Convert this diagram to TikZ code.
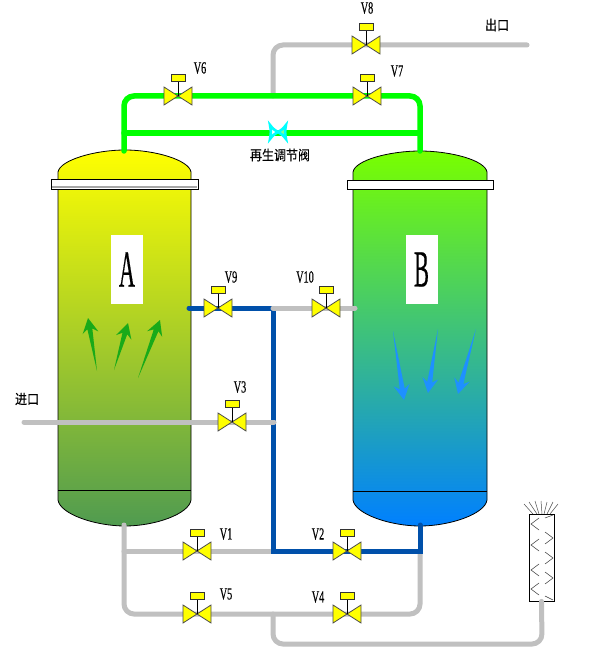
\documentclass[tikz,border=0pt]{standalone}
\usepackage{fontspec}
\setmainfont{Liberation Serif}[FakeBold=0.5]
\newfontfamily\cjk{Noto Sans CJK SC}[FakeBold=0.4]
\usetikzlibrary{calc}
\definecolor{pipegray}{RGB}{192,192,192}
\definecolor{pipelime}{RGB}{0,255,0}
\definecolor{pipeblue}{RGB}{0,80,170}
\definecolor{valveyellow}{RGB}{255,255,0}
\definecolor{regcyan}{RGB}{0,255,255}
\definecolor{flowgreen}{RGB}{25,170,25}
\definecolor{flowblue}{RGB}{30,144,255}
\tikzset{
  pipe/.style={line width=5pt,line cap=round,rounded corners=10pt},
  graypipe/.style={pipe,draw=pipegray},
  limepipe/.style={pipe,line width=5.5pt,draw=pipelime},
  bluepipe/.style={pipe,draw=pipeblue},
  vessel/.style={draw=black,line width=0.8pt},
  flange/.style={draw=black,line width=0.8pt,fill=white},
  valvewing/.style={draw=black!70,line width=0.8pt,fill=valveyellow},
  letterbox/.style={fill=white,minimum width=32pt,minimum height=69pt,inner sep=0pt,font=\fontsize{52}{52}\selectfont},
  vtag/.style={inner sep=0pt,font=\fontsize{17}{17}\selectfont},
  cjktag/.style={inner sep=0pt,font=\cjk\fontsize{12}{12}\selectfont},
}
% tapered flow arrow: tail, tip
\newcommand{\flowarrow}[3]{%
  \fill[#1] (#2) -- ($(#3)!11pt!(#2)!2.5pt!90:(#2)$) -- ($(#3)!15pt!(#2)!8pt!90:(#2)$) -- (#3)
    -- ($(#3)!15pt!(#2)!8pt!-90:(#2)$) -- ($(#3)!11pt!(#2)!2.5pt!-90:(#2)$) -- cycle;}
\begin{document}
\begin{tikzpicture}[x=1pt,y=-1pt]
\useasboundingbox (0,0) rectangle (600,655);
\fill[white] (0,0) rectangle (600,655);
% valve centres
\foreach \name/\px/\py in {V1/197/551,V2/347/551,V3/232/422,V4/347/614,V5/197/614,V6/178/96,V7/367/96,V8/366/45,V9/218/308,V10/326/308}
  \coordinate (\name) at (\px,\py);
% pipe ends and tees
\coordinate (topA) at (124,151);
\coordinate (topB) at (420,151);
\coordinate (botA) at (124,525);
\coordinate (botB) at (420,525);
\coordinate (tapL) at (124,133);
\coordinate (tapR) at (420,133);
\coordinate (mainT) at (273,96);
\coordinate (outT) at (527,45);
\coordinate (inL) at (24,422);
\coordinate (teeIn) at (274,422);
\coordinate (portA) at (189,308);
\coordinate (portB) at (355,308);
\coordinate (teeHi) at (273,308);
\coordinate (teeLo) at (273,551);
\coordinate (teeA) at (124,551);
\coordinate (teeR) at (420,551);
\coordinate (teeVent) at (273,614);
\coordinate (bendS) at (542,644);
% vessels
\draw[vessel,top color=valveyellow,middle color={rgb,255:red,167;green,205;blue,40},bottom color={rgb,255:red,80;green,155;blue,80}]
  (58,180) -- (58,172) .. controls (60,160) and (95,150) .. (125,150) .. controls (155,150) and (189,160) .. (191,172)
  -- (191,500) .. controls (189,514) and (155,526) .. (125,526) .. controls (95,526) and (60,514) .. (58,500) -- cycle;
\draw[vessel,top color={rgb,255:red,120;green,255;blue,0},middle color={rgb,255:red,57;green,193;blue,115},bottom color={rgb,255:red,0;green,128;blue,255}]
  (353,180) -- (353,172) .. controls (355,160) and (390,151) .. (420,151) .. controls (450,151) and (485,160) .. (487,172)
  -- (487,500) .. controls (485,514) and (450,526) .. (420,526) .. controls (390,526) and (355,514) .. (353,500) -- cycle;
\draw[black,line width=0.8pt] (58,490) -- (191,490);
\draw[black,line width=0.8pt] (353,491) -- (487,491);
\draw[flange] (51,179) rectangle (198,189);
\fill[black!35] (52,186) rectangle (197,188);
\draw[flange] (347,180) rectangle (493,189);
% letters and flow arrows
\node[letterbox] (boxA) at (127,269.5) {\scalebox{.43}[1]{A}};
\node[letterbox] (boxB) at (421.5,269.5) {\scalebox{.43}[1]{B}};
\flowarrow{flowgreen}{97,371}{88,318}
\flowarrow{flowgreen}{114,370}{128,323}
\flowarrow{flowgreen}{138,378}{160,320}
\flowarrow{flowblue}{393,331}{404,400}
\flowarrow{flowblue}{438,329}{428,393}
\flowarrow{flowblue}{476,329}{458,394}
% silencer
\node[draw=black,line width=0.8pt,fill=white,minimum width=25pt,minimum height=87pt,inner sep=0pt] (sil) at (541.5,557.5) {};
% pipes
\draw[graypipe] (mainT) |- (V8) -- (outT);
\draw[graypipe] (teeA) -- (teeLo);
\draw[graypipe] (botA) |- (V5) -| (teeR);
\draw[graypipe] (teeVent) |- (bendS) -- (sil.south);
\draw[limepipe] (topA) |- (V7) -| (topB);
\draw[limepipe] (tapL) -- (tapR);
\draw[bluepipe,rounded corners=0pt] (portA) -- (teeHi) -- (teeLo) -- (teeR) -- (botB);
\draw[graypipe] (inL) -- (teeIn);
\draw[graypipe] (teeHi) -- (portB);
% silencer marks
\foreach \tipy in {524,545,570,589}
  \draw[black!80,line width=0.5pt] (539,\tipy-6) -- (531,\tipy) -- (539,\tipy+6);
\foreach \tipy in {538,558,578}
  \draw[black!80,line width=0.5pt] (545,\tipy-6) -- (553,\tipy) -- (545,\tipy+6);
\draw[black!80,line width=0.5pt] (545,518) -- (553,515);
\draw[black!80,line width=0.5pt] (545,596) -- (553,600);
\foreach \sx/\sy/\ex in {524/504/533,529/502/537,535/501/539,541/501/542,547/502/544,553/502/547,558/504/550}
  \draw[black!70,line width=0.5pt] (\sx,\sy) -- (\ex,514);
% valves
\foreach \name/\lx/\ly in {V1/226/534,V2/318/534,V3/240/387,V4/318/597,V5/226/594,V6/200/68,V7/397/71,V8/367/8,V9/231/277,V10/305/277}{
  \begin{scope}[shift={(\name)}]
    \draw[valvewing] (0,0) -- (-14,-9) -- (-14,9) -- cycle;
    \draw[valvewing] (0,0) -- (14,-9) -- (14,9) -- cycle;
    \draw[black,line width=1pt] (0,0) -- (0,-15);
    \draw[valvewing,draw=black!80] (-7,-22) rectangle (7,-15);
  \end{scope}
  \node[vtag] (tag\name) at (\lx,\ly) {\scalebox{.6}[1]{\name}};
}
% regeneration valve
\node[inner sep=0pt,minimum size=18pt] (regv) at (278,132) {};
\draw[regcyan,line width=2.6pt,fill=white] (regv.center) to[bend left=12] (270,125) to[bend left=12] (270,139) to[bend left=12] (regv.center);
\draw[regcyan,line width=2.6pt,fill=pipelime!45] (regv.center) to[bend right=12] (286,125) to[bend right=12] (286,139) to[bend right=12] (regv.center);
% texts
\node[cjktag] (regtag) at (280,155) {\scalebox{1}[1.15]{再生调节阀}};
\node[cjktag] (intag) at (27,399) {\scalebox{1}[1.15]{进口}};
\node[cjktag] (outtag) at (497,25) {\scalebox{1}[1.15]{出口}};
\end{tikzpicture}
\end{document}
